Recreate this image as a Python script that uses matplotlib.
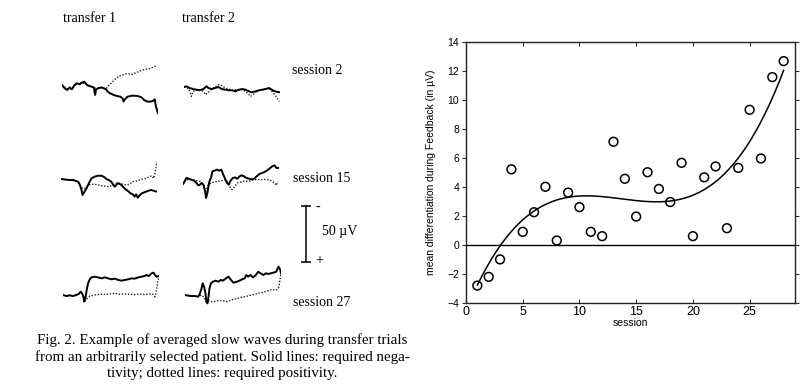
import numpy as np
import matplotlib.pyplot as plt

W, H = 810, 391

# ---- right panel: mean differentiation per session ----
sessions = np.arange(1, 29)
differentiation = [-2.8, -2.2, -1.0, 5.2, 0.9, 2.25, 4.0, 0.3, 3.6, 2.6,
                   0.9, 0.6, 7.1, 4.55, 1.95, 5.0, 3.85, 2.95, 5.65, 0.6,
                   4.65, 5.4, 1.15, 5.3, 9.3, 5.95, 11.55, 12.65]
x_ticks = [0, 5, 10, 15, 20, 25]
y_ticks = [-4, -2, 0, 2, 4, 6, 8, 10, 12, 14]

# ---- left panel: averaged slow waves (time in % of trial, amplitude in uV, negativity up) ----
t1_s2_solid_t = [0, 2.8, 5.5, 7.9, 10.3, 13.1, 15.5, 18.3, 20.7, 23.4, 25.9, 28.6, 31, 33.1, 34.5, 35.5,
                 37.9, 40.7, 43.4, 45.9, 47.6, 50.3, 53.8, 57.2, 60.7, 63.1, 64.1, 65.5, 68.3, 73.4,
                 78.6, 82.8, 85.5, 89, 92.4, 95.2, 96.6, 97.9, 100]
t1_s2_solid_uv = [0, -2.9, -4.4, -2.1, -3.8, 0, 1.5, 0.6, 2.1, 2.9, 0, -0.9, -1.5, -2.1, -8.8, -3.8,
                  -2.9, -2.1, -2.9, -3.8, -5.9, -7.4, -8.8, -9.7, -10.3, -11.8, -14.7, -12.7, -10.3, -9.4,
                  -9.7, -10.9, -13.3, -14.7, -14.7, -13.9, -12.7, -19.2, -25.1]
t1_s2_dot_t = [0, 5.5, 10.3, 15.5, 20.7, 25.9, 31, 35.5, 40.7, 45.9, 49.3, 52.8, 56.2, 59.7, 63.1,
               66.6, 70, 73.4, 76.9, 82.1, 87.2, 92.4, 95.9, 98.6]
t1_s2_dot_uv = [0, -3.5, -3.0, 1.2, 2.0, 0.3, -1.5, -3.0, -2.3, -3.2, 0, 2.9, 5.9, 8.0, 8.8,
                9.7, 9.7, 9.4, 10.9, 12.7, 13.9, 14.7, 16.2, 17.4]

t2_s2_solid_t = [0, 2.5, 6.0, 9.5, 13.0, 16.5, 20.1, 23.6, 25.4, 28.9, 32.4, 35.9, 39.4, 43.0, 46.5,
                 50, 53.5, 57.0, 60.6, 64.1, 67.6, 70.4, 74.6, 78.2, 81.7, 85.2, 88.7, 92.3, 95.8, 100]
t2_s2_solid_uv = [0, 0.6, -0.9, -1.8, -2.4, -2.9, -1.8, 0.6, -0.9, -1.8, -0.9, 0, -1.8, -2.4, -2.9,
                  -2.9, -3.8, -2.4, -1.8, -2.4, -3.8, -4.7, -3.8, -2.9, -2.4, -1.8, -0.9, -2.9, -4.1, -4.7]
t2_s2_dot_t = [0, 3.5, 6.0, 7.7, 9.5, 13.0, 16.5, 20.1, 22.5, 25.4, 28.9, 32.4, 35.9, 39.4, 43.0, 46.5,
               50, 53.5, 57.0, 60.6, 64.1, 66.9, 69.4, 71.8, 74.6, 78.2, 83.5, 88.0, 91.5, 95.8, 99.3]
t2_s2_dot_uv = [0, -0.9, -3.8, -8.3, -3.8, -2.9, -2.4, -3.8, -6.8, -4.7, -1.8, 0, 2.1, 1.2, -0.9, -1.8,
                -2.9, -2.4, -2.9, -2.4, -3.8, -5.9, -8.3, -6.8, -4.7, -2.9, -1.8, -0.9, -3.8, -8.3, -12.7]

t1_s15_solid_t = [0, 2.4, 5.9, 9.3, 12.8, 15.2, 17.9, 19.7, 21.4, 22.4, 24.1, 26.6, 29.0, 31.7, 35.2,
                  38.6, 42.1, 44.8, 47.2, 49.7, 52.4, 54.1, 55.9, 57.6, 59.3, 62.1, 64.5, 66.9, 69.7,
                  72.4, 74.8, 76.6, 78.3, 80, 81.7, 84.1, 86.9, 90.3, 93.8, 97.2, 100]
t1_s15_solid_uv = [0, -0.3, -0.6, -0.9, -0.9, -1.8, -2.4, -5.3, -9.7, -14.2, -11.8, -8.3, -3.8, 0.6, 2.1,
                   2.9, 2.9, 1.8, 0, -0.9, -2.4, -4.7, -6.8, -5.3, -3.8, -4.7, -6.8, -8.8, -10.6,
                   -12.7, -13.6, -15.6, -13.6, -16.5, -14.7, -12.7, -11.8, -10.6, -9.7, -10.6, -11.2]
t1_s15_dot_t = [0, 5.9, 12.8, 17.9, 21.4, 24.8, 28.3, 31.7, 35.2, 38.6, 42.1, 45.5, 49.0, 52.4, 55.2, 57.6,
                61.0, 64.5, 67.9, 71.4, 74.8, 78.3, 81.7, 85.2, 88.6, 92.1, 94.5, 96.6, 97.9, 99.0, 99.7]
t1_s15_dot_uv = [0, -0.6, -0.9, -2.4, -8.0, -8.3, -5.3, -4.7, -4.7, -5.3, -5.9, -6.2, -6.8, -5.9, -4.7, -3.8,
                 -3.8, -4.7, -5.3, -4.7, -2.4, -1.8, -0.9, 0, 0.6, 2.1, 2.9, 0.6, 5.0, 10.9, 15.3]

t2_s15_solid_t = [0, 1.8, 3.5, 6.0, 8.8, 11.7, 14.1, 15.9, 17.7, 19.4, 21.2, 23.0, 24.0, 25.4, 26.5, 27.6,
                  29.3, 30.7, 32.9, 35.3, 37.8, 39.9, 41.3, 43.5, 45.9, 47.7, 49.5, 51.9, 54.1, 56.5,
                  59.0, 61.1, 63.6, 66.1, 68.9, 71.7, 74.2, 76.7, 79.5, 82.3, 84.8, 87.3, 90.1, 92.9,
                  95.4, 97.2, 100]
t2_s15_solid_uv = [0, 2.4, 5.3, 4.7, 3.8, 2.9, 0.9, -1.2, -0.6, 0.9, -0.6, -6.5, -12.4, -8.0, -2.1, 2.4,
                   5.9, 11.2, 11.8, 12.7, 11.8, 12.7, 9.7, 5.3, 0.9, -0.6, 2.9, 5.3, 5.9, 4.7,
                   6.8, 7.7, 6.8, 5.3, 4.7, 4.1, 4.7, 6.8, 8.8, 9.7, 10.6, 11.8, 13.6, 15.6,
                   16.5, 14.2, 14.2]
t2_s15_dot_t = [0, 3.5, 7.1, 10.6, 14.1, 17.7, 21.2, 23.7, 26.5, 29.3, 32.9, 36.4, 39.9, 43.5, 45.9, 48.4,
                51.2, 54.1, 56.5, 60.1, 63.6, 67.1, 70.7, 74.2, 77.7, 81.3, 84.8, 88.3, 91.9, 95.4, 97.2, 98.9]
t2_s15_dot_uv = [0, 3.8, 3.8, 3.5, 2.9, 2.4, -0.6, -6.5, -0.6, 0.9, 1.8, 2.4, 2.9, 3.8, 2.4, -2.1,
                 -5.0, -2.1, 0.9, 1.8, 2.4, 2.4, 2.9, 3.8, 4.1, 3.8, 4.1, 3.8, 2.9, 0.9, -1.2, 2.4]

t1_s27_solid_t = [0, 3.5, 7.0, 10.5, 13.9, 16.4, 18.5, 19.9, 21.3, 22.0, 23.3, 24.7, 26.1, 27.9, 29.6,
                  33.1, 36.6, 40.1, 43.6, 47.0, 50.5, 54.0, 57.5, 61.0, 64.5, 67.9, 71.4, 74.9, 78.4,
                  81.9, 84.7, 87.1, 89.5, 92.3, 94.4, 95.8, 97.6, 100]
t1_s27_solid_uv = [0, -0.9, -0.3, -0.9, 0, 0.9, 2.9, 1.5, -1.5, -5.9, -2.9, 4.4, 10.3, 13.9, 15.6,
                   16.2, 15.6, 14.7, 15.6, 14.7, 13.9, 14.5, 13.3, 12.7, 13.3, 13.9, 14.7, 14.5, 15.6,
                   16.2, 16.8, 17.7, 16.8, 19.2, 19.8, 17.7, 16.2, 16.8]
t1_s27_dot_t = [0, 3.5, 7.0, 10.5, 13.9, 16.4, 18.5, 19.9, 21.3, 22.6, 24.4, 27.9, 33.1, 38.3, 43.6,
                48.8, 54.0, 59.2, 64.5, 69.7, 74.9, 80.1, 85.4, 90.6, 94.1, 95.8, 96.9, 97.6, 98.6, 100]
t1_s27_dot_uv = [0, -0.9, -0.3, -0.9, 0, 0.9, 2.9, 1.5, -1.5, -5.9, -3.8, -0.9, 0, 0.6, 0.6,
                 0.9, 1.5, 0.6, 0.9, 0.6, 0.3, 0.9, 0.3, 0.9, 0.6, -1.5, 1.5, 5.9, 11.8, 16.2]

t2_s27_solid_t = [0, 3.5, 7.1, 10.6, 13.5, 14.9, 17.0, 18.4, 19.9, 21.3, 22.3, 23.4, 24.5, 25.5, 27.0,
                  29.1, 31.9, 34.8, 37.2, 39.7, 42.6, 45.4, 47.9, 50.4, 53.2, 56.7, 59.6, 62.1, 63.8,
                  65.6, 68.1, 70.9, 73.8, 76.2, 78.7, 81.6, 84.4, 86.9, 89.4, 92.2, 95.0, 97.5, 99.3, 100]
t2_s27_solid_uv = [0, -0.6, -0.9, -0.9, -1.5, 0, 5.0, 10.3, 7.4, 1.5, -5.9, -7.4, -1.5, 5.9, 10.3,
                   11.8, 12.7, 11.8, 13.3, 12.7, 14.7, 16.2, 13.3, 10.9, 11.5, 12.7, 13.9, 14.7, 17.7,
                   16.2, 17.7, 15.6, 17.7, 20.6, 19.2, 17.7, 19.2, 18.6, 19.2, 19.8, 20.6, 25.1, 22.1, 19.2]
t2_s27_dot_t = [0, 7.1, 13.5, 17.0, 19.9, 22.0, 24.1, 26.6, 30.1, 33.7, 37.2, 40.8, 44.3, 47.9, 51.4, 55.0,
                58.5, 62.1, 65.6, 69.1, 72.7, 76.2, 79.8, 83.3, 86.9, 90.4, 94.0, 96.5, 97.9, 98.9, 100]
t2_s27_dot_uv = [0, -0.9, -1.5, 0, -2.1, -5.9, -5.0, -5.9, -5.9, -5.0, -5.0, -5.3, -5.9, -4.4, -3.8, -2.9,
                 -2.1, -1.5, -0.9, 0, 0.6, 1.5, 2.1, 2.9, 3.8, 5.0, 4.4, 5.0, 7.4, 13.3, 19.2]

scale_bar_uv = 50

plt.rcParams['font.family'] = ['Liberation Serif', 'DejaVu Serif']
fig = plt.figure(figsize=(W / 100, H / 100), dpi=100)


def px_rect(x0, y0, w, h):
    """pixel box (top-left origin) -> figure fraction rect"""
    return [x0 / W, 1 - (y0 + h) / H, w / W, h / H]


def px_xy(x, y):
    return x / W, 1 - y / H


# trace panels: (left px, baseline px, solid, dotted)
UV_PX = 1.13          # pixels per microvolt
UV_RANGE = 30
panels = [
    (62, 85, (t1_s2_solid_t, t1_s2_solid_uv), (t1_s2_dot_t, t1_s2_dot_uv)),
    (184, 87, (t2_s2_solid_t, t2_s2_solid_uv), (t2_s2_dot_t, t2_s2_dot_uv)),
    (61, 179, (t1_s15_solid_t, t1_s15_solid_uv), (t1_s15_dot_t, t1_s15_dot_uv)),
    (183, 184, (t2_s15_solid_t, t2_s15_solid_uv), (t2_s15_dot_t, t2_s15_dot_uv)),
    (63, 295, (t1_s27_solid_t, t1_s27_solid_uv), (t1_s27_dot_t, t1_s27_dot_uv)),
    (185, 295, (t2_s27_solid_t, t2_s27_solid_uv), (t2_s27_dot_t, t2_s27_dot_uv)),
]
hpx = 2 * UV_RANGE * UV_PX
for x0, base, solid, dotted in panels:
    ax = fig.add_axes(px_rect(x0, base - hpx / 2, 96, hpx))
    ax.plot(dotted[0], dotted[1], color='#222222', lw=1.0, linestyle=(0, (1, 1.2)))
    ax.plot(solid[0], solid[1], color='black', lw=1.4)
    ax.set_xlim(0, 100)
    ax.set_ylim(-UV_RANGE, UV_RANGE)
    ax.axis('off')

# 50 uV calibration bar
axs = fig.add_axes(px_rect(296, 234 - hpx / 2, 20, hpx))
axs.plot([0, 0], [-scale_bar_uv / 2, scale_bar_uv / 2], color='black', lw=1.1,
         marker='_', markersize=7, mew=1.1)
axs.text(0.9, scale_bar_uv / 2 - 1, '-', fontsize=10, va='center')
axs.text(0.9, -scale_bar_uv / 2 + 1, '+', fontsize=10, va='center')
axs.set_xlim(-1, 1)
axs.set_ylim(-UV_RANGE, UV_RANGE)
axs.axis('off')

fig.text(*px_xy(322, 232), f'{scale_bar_uv} µV', fontsize=10, va='center')
fig.text(*px_xy(63, 18), 'transfer 1', fontsize=10, va='center')
fig.text(*px_xy(182, 18), 'transfer 2', fontsize=10, va='center')
fig.text(*px_xy(292, 71), 'session 2', fontsize=10, va='center')
fig.text(*px_xy(293, 178), 'session 15', fontsize=10, va='center')
fig.text(*px_xy(293, 303), 'session 27', fontsize=10, va='center')

caption = ['Fig. 2. Example of averaged slow waves during transfer trials',
           'from an arbitrarily selected patient. Solid lines: required nega-',
           'tivity; dotted lines: required positivity.']
for i, line in enumerate(caption):
    fig.text(*px_xy(222, 340 + 17 * i), line, fontsize=10.8, ha='center', va='center')

# ---- right scatter plot ----
sans = ['Liberation Sans', 'DejaVu Sans']
ax = fig.add_axes(px_rect(466, 41.5, 329, 261.5))
ax.scatter(sessions, differentiation, s=40, facecolors='none', edgecolors='black', linewidths=1.1, zorder=3)
coef = np.polyfit(sessions, differentiation, 3)
xs = np.linspace(sessions[0], sessions[-1], 200)
ax.plot(xs, np.polyval(coef, xs), color='black', lw=1.1)
ax.axhline(0, color='black', lw=1.0)
ax.set_xlim(0, 29)
ax.set_ylim(-4, 14)
ax.set_xticks(x_ticks)
ax.set_yticks(y_ticks)
ax.tick_params(axis='both', labelsize=7.5, length=3, width=0.8, color='#333333', pad=2)
ax.tick_params(axis='x', direction='in', top=True, labelsize=9)
ax.tick_params(axis='y', direction='out', right=True)
for lab in ax.get_xticklabels() + ax.get_yticklabels():
    lab.set_family(sans)
for sp in ax.spines.values():
    sp.set_linewidth(1.0)
    sp.set_color('#222222')
ax.set_xlabel('session', family=sans, fontsize=7.5, labelpad=0)
ax.set_ylabel('mean differentiation during Feedback (in µV)', family=sans, fontsize=7.5, labelpad=8)

fig.savefig('out.png', dpi=100)
